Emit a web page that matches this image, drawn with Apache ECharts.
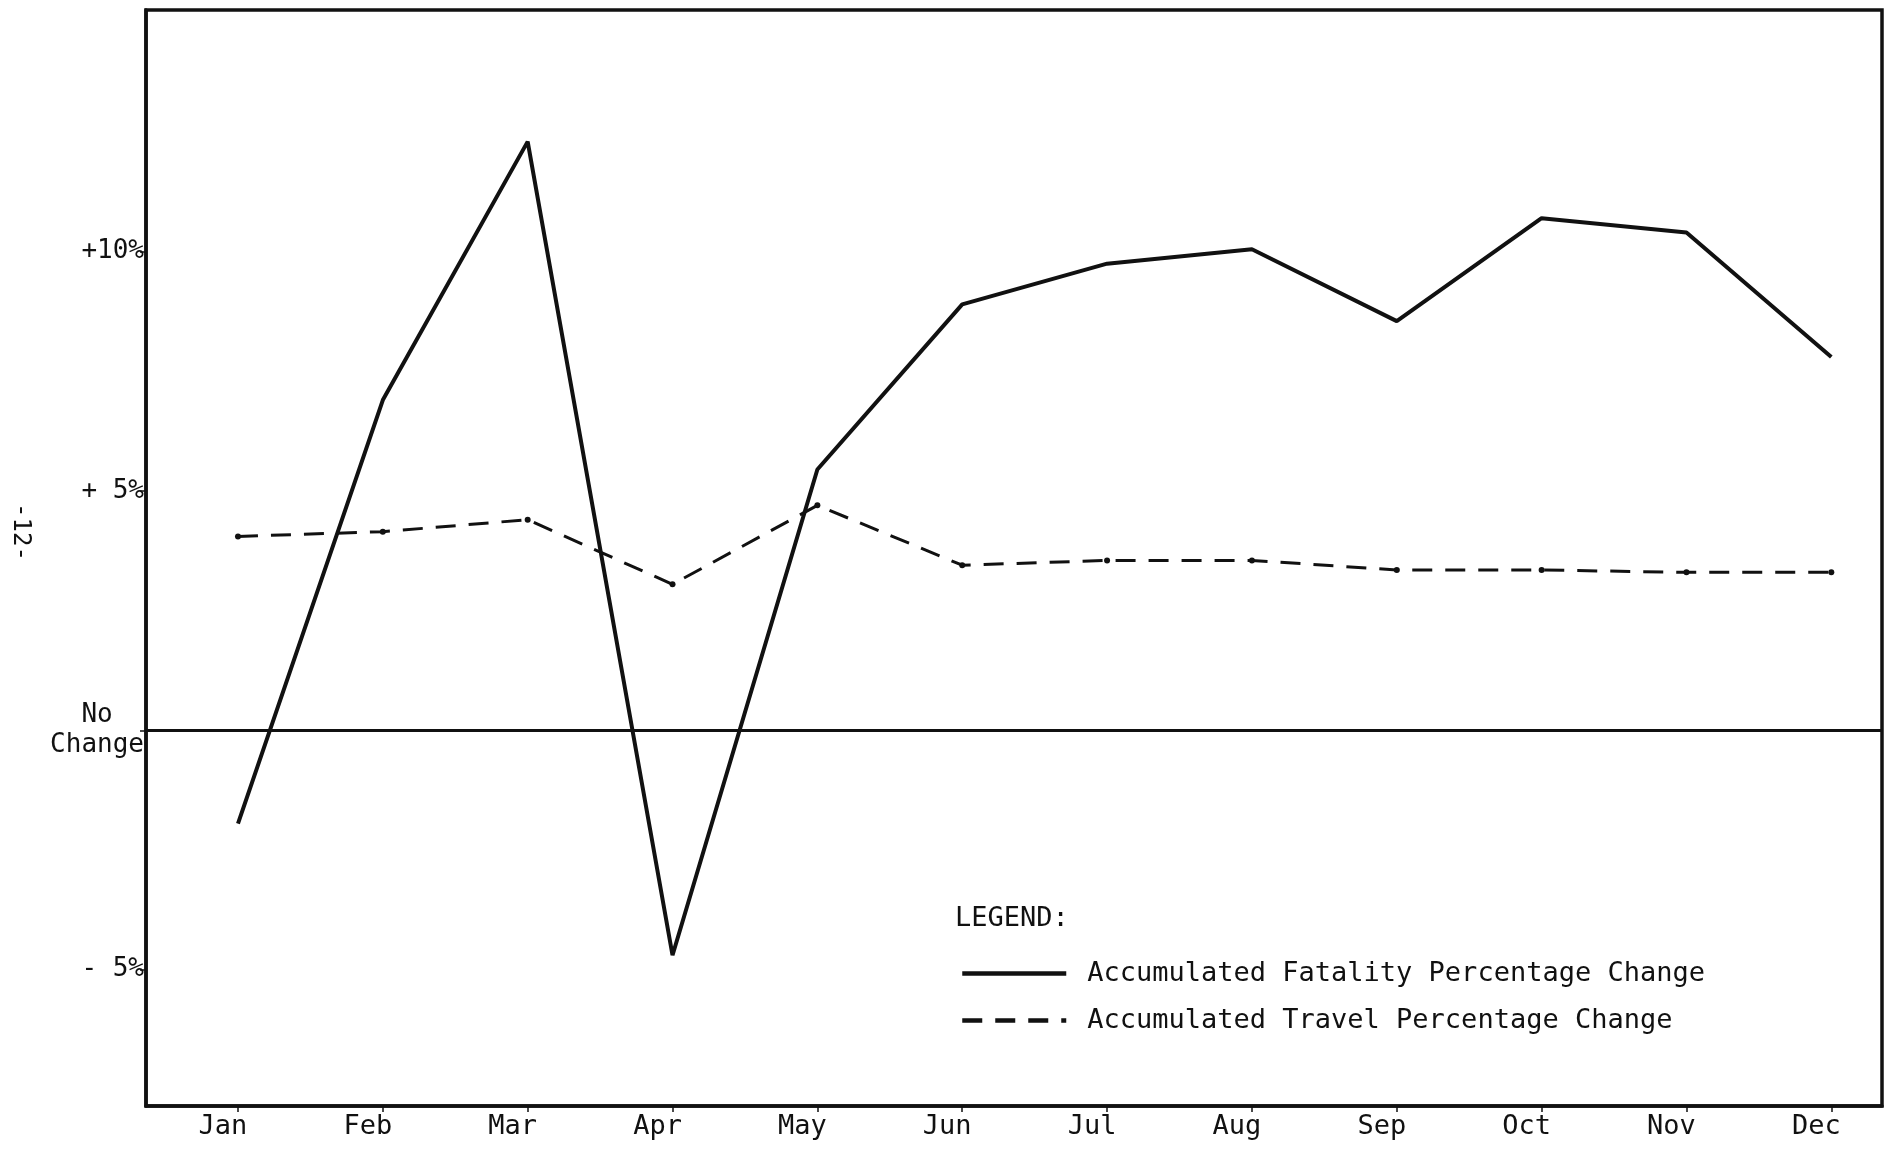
<!DOCTYPE html>
<html>
<head>
<meta charset="utf-8">
<script src="https://cdn.jsdelivr.net/npm/echarts@6/dist/echarts.min.js"></script>
<style>html,body{margin:0;padding:0;background:#fff}#c{width:1886px;height:1151px}</style>
</head>
<body>
<div id="c"></div>
<script>
const months = ['Jan','Feb','Mar','Apr','May','Jun','Jul','Aug','Sep','Oct','Nov','Dec'];
const fatality = [-1.95, 6.9, 12.3, -4.7, 5.45, 8.9, 9.75, 10.05, 8.55, 10.7, 10.4, 7.8];
const travel = [4.05, 4.15, 4.4, 3.05, 4.7, 3.45, 3.55, 3.55, 3.35, 3.35, 3.3, 3.3];
const yTickValues = [-5, 0, 5, 10];
const yTickLabels = ['- 5%', '{c|No}\n{c|Change}', '+ 5%', '+10%'];
const seriesNames = ['Accumulated Fatality Percentage Change', 'Accumulated Travel Percentage Change'];

const mono = '"DejaVu Sans Mono", "Liberation Mono", monospace';
const ink = '#111';
const chart = echarts.init(document.getElementById('c'));
chart.setOption({
  backgroundColor: '#fff',
  animation: false,
  grid: { left: 146, right: 4, top: 10, bottom: 45, show: true, borderColor: ink, borderWidth: 3.5, backgroundColor: 'transparent' },
  xAxis: {
    type: 'value', min: -0.635, max: 11.35,
    splitLine: { show: false },
    axisLine: { show: true, onZero: false, lineStyle: { color: ink, width: 3.5 } },
    axisTick: { show: true, customValues: months.map((m, i) => i), length: 6, lineStyle: { color: ink, width: 1.5 } },
    axisLabel: { customValues: months.map((m, i) => i), formatter: v => months[Math.round(v)] || '', color: ink, fontFamily: mono, fontSize: 27, margin: 7, padding: [0, 30, 0, 0] }
  },
  yAxis: {
    type: 'value', min: -7.85, max: 15.05,
    splitLine: { show: false },
    axisLine: { show: true, onZero: false, lineStyle: { color: ink, width: 3.5 } },
    axisTick: { show: true, customValues: yTickValues, length: 6, lineStyle: { color: ink, width: 1.5 } },
    axisLabel: {
      customValues: yTickValues,
      formatter: v => yTickLabels[yTickValues.indexOf(Math.round(v))] || '',
      color: ink, fontFamily: mono, fontSize: 26, margin: 2, lineHeight: 30,
      rich: { c: { align: 'center', fontFamily: mono, fontSize: 26, color: ink, lineHeight: 30 } }
    }
  },
  legend: {
    orient: 'vertical', left: 955, top: 955, itemWidth: 104, itemHeight: 14, itemGap: 20,
    textStyle: { color: ink, fontFamily: mono, fontSize: 27, padding: [0, 0, 0, 16] },
    itemStyle: { opacity: 0 },
    lineStyle: { width: 4.5 },
    data: seriesNames
  },
  graphic: [
    { type: 'text', left: 955, top: 905, style: { text: 'LEGEND:', font: '27px ' + mono, fill: ink } },
    { type: 'text', x: 20, y: 532, rotation: -Math.PI / 2, style: { text: '-12-', font: '24px ' + mono, fill: ink, align: 'center', verticalAlign: 'middle' } }
  ],
  series: [
    {
      name: seriesNames[0], type: 'line',
      data: fatality.map((v, i) => [i, v]),
      symbol: 'none',
      lineStyle: { color: ink, width: 4 },
      itemStyle: { color: ink },
      markLine: {
        silent: true, symbol: 'none', label: { show: false },
        lineStyle: { color: ink, width: 3, type: 'solid' },
        data: [{ yAxis: 0 }]
      }
    },
    {
      name: seriesNames[1], type: 'line',
      data: travel.map((v, i) => [i, v]),
      symbol: 'circle', symbolSize: 6,
      lineStyle: { color: ink, width: 3, type: [20, 13] },
      itemStyle: { color: ink }
    }
  ]
});
</script>
</body>
</html>
